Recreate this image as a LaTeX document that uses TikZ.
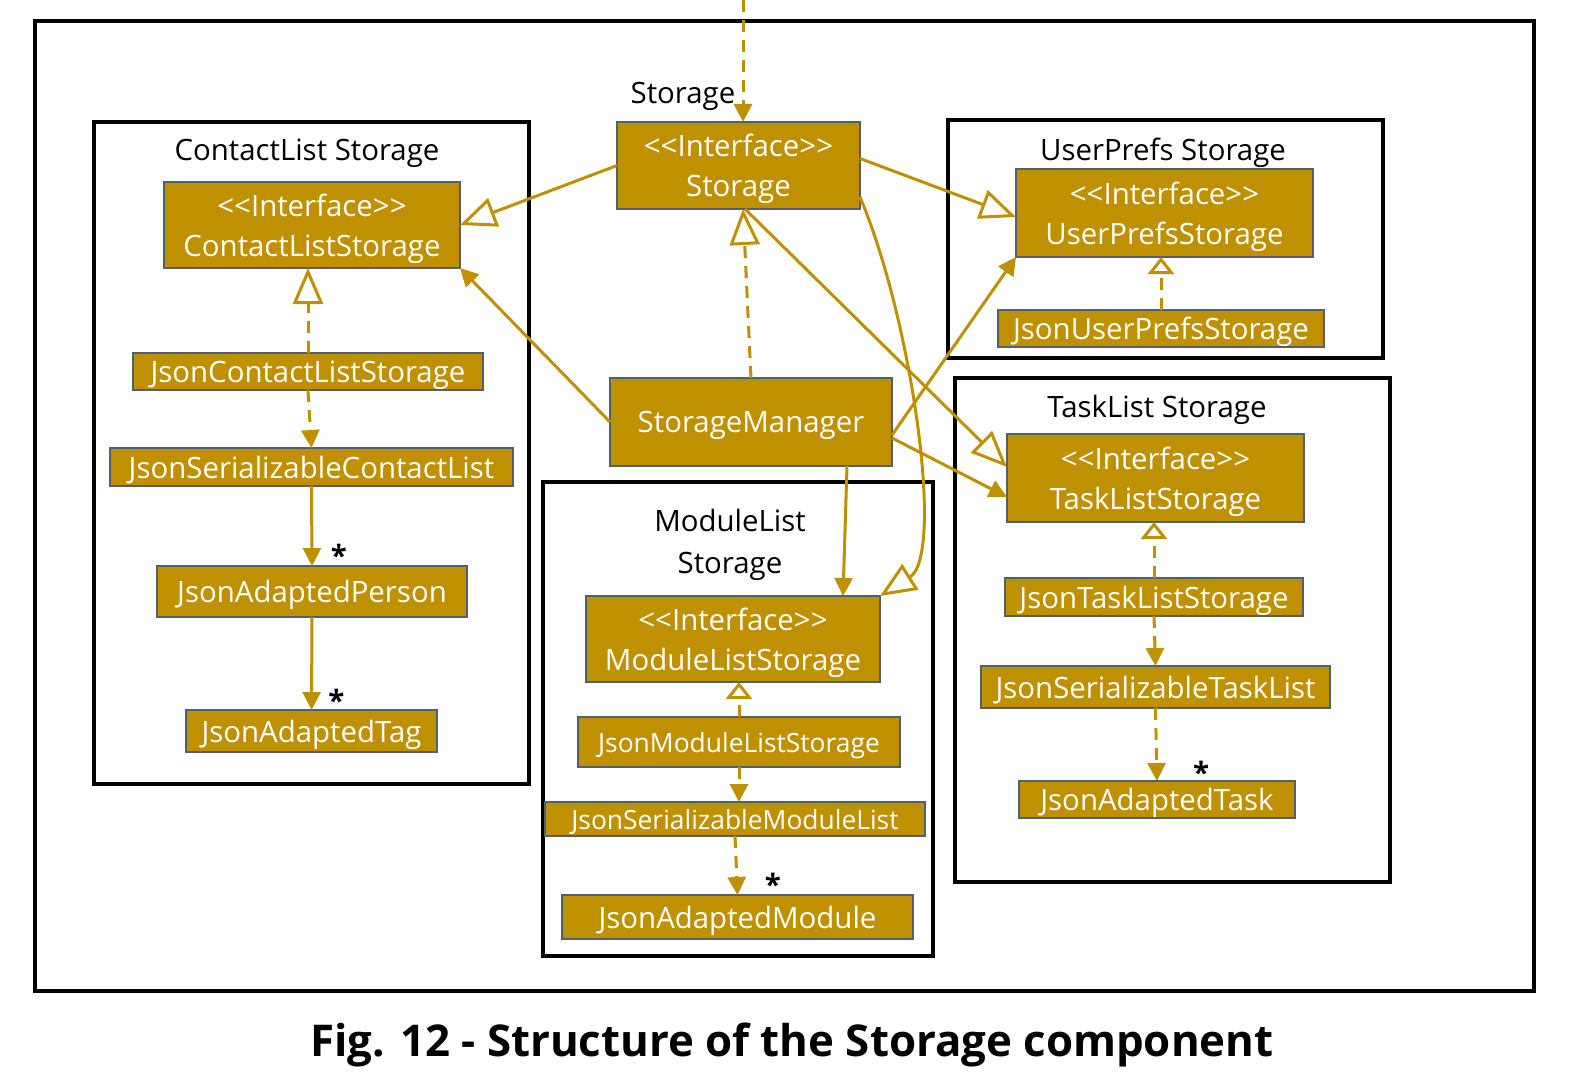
\documentclass[tikz,border=0pt]{standalone}
\usepackage{fontspec}
\setmainfont{Open Sans}
\usetikzlibrary{arrows.meta}
\definecolor{umlGold}{HTML}{BF9000}
\definecolor{umlEdge}{HTML}{51606E}
\newcommand{\BoxFont}{\fontsize{14.7}{20}\selectfont}
\newcommand{\BoxSmall}{\fontsize{13.2}{15}\selectfont}
\newcommand{\CapFont}{\fontsize{21.9}{26}\selectfont\bfseries}
\newcommand{\ifc}{<\kern0pt<Interface>\kern0pt>}
\tikzset{
  cls/.style={fill=umlGold, draw=umlEdge, line width=0.7pt, text=white,
    font=\BoxFont, align=center, inner sep=0pt, outer sep=0pt, text depth=0pt},
  span/.style n args={4}{minimum width={(#3-#1)*0.5pt},
    minimum height={(#4-#2)*0.5pt}, at={({(#1+#3)/2},{(#2+#4)/2})}},
  frame/.style={draw=black, line width=2.2pt},
  title/.style={font=\BoxFont, text=black, align=center, inner sep=0pt, text depth=0pt},
  mult/.style={font=\BoxFont\bfseries, text=black, inner sep=0pt},
  link/.style={draw=umlGold, line width=1.5pt},
  assoc/.style={link, -{Triangle[length=9pt,width=9pt]}},
  dep/.style={assoc, dash pattern=on 6pt off 4pt},
  inherit/.style={link, -{Triangle[open,fill=white,length=18pt,width=15pt]}},
  realize/.style={inherit, dash pattern=on 6pt off 4pt},
  realizesmall/.style={link, dash pattern=on 6pt off 4pt,
    -{Triangle[open,fill=white,length=8.5pt,width=13pt]}},
}
\begin{document}
\begin{tikzpicture}[x=0.5pt,y=-0.5pt]
  \useasboundingbox (0,0) rectangle (1590,1086);

  % frames
  \draw[frame] (35,21) rectangle (1534,991);
  \draw[frame] (94,122) rectangle (529,784);
  \draw[frame] (948,120) rectangle (1383,358);
  \draw[frame] (955,378) rectangle (1390,882);
  \draw[frame] (543,482) rectangle (933,956);

  \node[title] (tstor) at (683,93) {Storage};
  \node[title] (tcl) at (307,150) {ContactList Storage};
  \node[title] (tup) at (1163,149) {UserPrefs Storage};
  \node[title] (ttl) at (1157,406) {TaskList Storage};
  \node[title] (tml) at (730,541) {ModuleList\\[1pt]Storage};

  % classes
  \node[cls, span={617}{122}{860}{209}] (stor) {\ifc\\Storage};
  \node[cls, span={610}{378}{892}{466}] (mgr) {StorageManager};

  \node[cls, span={164}{182}{460}{268}] (clst) {\ifc\\ContactListStorage};
  \node[cls, span={133}{353}{483}{390}] (jcls) {JsonContactListStorage};
  \node[cls, span={110}{448}{513}{486}] (jscl) {JsonSerializableContactList};
  \node[cls, span={157}{566}{467}{617}] (jap) {JsonAdaptedPerson};
  \node[cls, span={186}{710}{437}{752}] (jat) {JsonAdaptedTag};

  \node[cls, span={1016}{169}{1313}{257}] (upst) {\ifc\\UserPrefsStorage};
  \node[cls, span={998}{310}{1324}{347}] (jups) {JsonUserPrefsStorage};

  \node[cls, span={1007}{434}{1304}{522}] (tlst) {\ifc\\TaskListStorage};
  \node[cls, span={1005}{578}{1303}{616}] (jtls) {JsonTaskListStorage};
  \node[cls, span={981}{666}{1330}{708}] (jstl) {JsonSerializableTaskList};
  \node[cls, span={1019}{781}{1295}{818}] (jatk) {JsonAdaptedTask};

  \node[cls, span={586}{596}{880}{682}] (mlst) {\ifc\\ModuleListStorage};
  \node[cls, font=\BoxSmall, span={578}{717}{900}{767}] (jmls) {JsonModuleListStorage};
  \node[cls, font=\BoxSmall, span={545}{802}{925}{836}] (jsml) {JsonSerializableModuleList};
  \node[cls, span={562}{895}{913}{939}] (jam) {JsonAdaptedModule};

  % Storage
  \coordinate (ext) at (743,0);
  \draw[dep] (ext) -- (ext |- stor.north);
  \draw[inherit] (stor.west) -- (clst.east);
  \draw[inherit] ([yshift=3.5pt]stor.east) -- ([yshift=-2pt]upst.west);
  \draw[inherit] ([xshift=3.25pt]stor.south) -- ([yshift=5.5pt]tlst.west);
  \draw[inherit] ([yshift=6pt]stor.south east)
    .. controls (912,320) and (945,555) .. (mlst.north east);
  \draw[realize] (mgr.north) -- ([xshift=2.25pt]stor.south);

  % StorageManager
  \draw[assoc] (mgr.west) -- (clst.south east);
  \draw[assoc] ([yshift=-6.5pt]mgr.east) -- (upst.south west);
  \draw[assoc] ([yshift=-8pt]mgr.east) -- ([yshift=-9.5pt]tlst.west);
  \draw[assoc] ([xshift=48pt]mgr.south) -- ([xshift=55pt]mlst.north);

  % ContactList
  \draw[realize] (jcls.north) -- (jcls.north |- clst.south);
  \draw[dep] (jcls.south) -- (jscl.north);
  \draw[assoc] (jscl.south) -- (jap.north)
    node[mult, at end, xshift=13.5pt, yshift=5.5pt] (mjap) {*};
  \draw[assoc] (jap.south) -- (jat.north)
    node[mult, at end, xshift=12.5pt, yshift=5pt] (mjat) {*};

  % UserPrefs
  \draw[realizesmall] (jups.north) -- (jups.north |- upst.south);

  % TaskList
  \draw[realizesmall] (jtls.north) -- (jtls.north |- tlst.south);
  \draw[dep] (jtls.south) -- (jstl.north);
  \draw[dep] (jstl.south) -- (jatk.north)
    node[mult, at end, xshift=22pt, yshift=4.5pt] (mjatk) {*};

  % ModuleList
  \draw[realizesmall] (jmls.north) -- (jmls.north |- mlst.south);
  \draw[dep] (jmls.south) -- (jmls.south |- jsml.north);
  \draw[dep] (jsml.south) -- (jam.north)
    node[mult, at end, xshift=17.75pt, yshift=5.5pt] (mjam) {*};

  \node[font=\CapFont] (cap) at (792,1045) {Fig. 12 - Structure of the Storage component};
\end{tikzpicture}
\end{document}
